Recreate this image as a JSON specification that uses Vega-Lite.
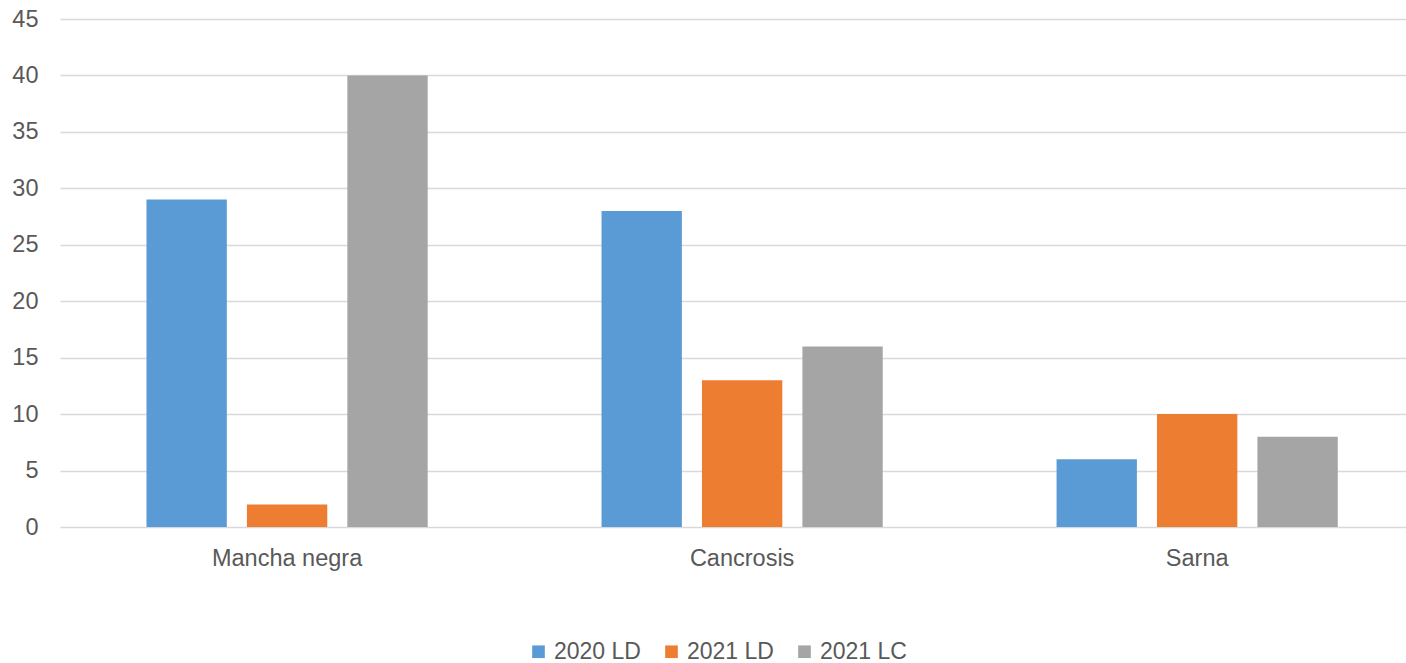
{
  "$schema": "https://vega.github.io/schema/vega-lite/v6.json",
  "width": 1346,
  "height": 508,
  "autosize": {"type": "none"},
  "padding": {"left": 60, "top": 19, "right": 0, "bottom": 136},
  "background": "white",
  "data": {
    "values": [
      {"enfermedad": "Mancha negra", "serie": "2020 LD", "valor": 29},
      {"enfermedad": "Mancha negra", "serie": "2021 LD", "valor": 2},
      {"enfermedad": "Mancha negra", "serie": "2021 LC", "valor": 40},
      {"enfermedad": "Cancrosis", "serie": "2020 LD", "valor": 28},
      {"enfermedad": "Cancrosis", "serie": "2021 LD", "valor": 13},
      {"enfermedad": "Cancrosis", "serie": "2021 LC", "valor": 16},
      {"enfermedad": "Sarna", "serie": "2020 LD", "valor": 6},
      {"enfermedad": "Sarna", "serie": "2021 LD", "valor": 10},
      {"enfermedad": "Sarna", "serie": "2021 LC", "valor": 8}
    ]
  },
  "mark": "bar",
  "encoding": {
    "x": {
      "field": "enfermedad", "type": "nominal", "sort": null, "title": null,
      "scale": {"paddingInner": 0.382, "paddingOuter": 0.17, "align": 0.559},
      "axis": {"labelAngle": 0, "domain": false, "ticks": false, "labelPadding": 19}
    },
    "xOffset": {
      "field": "serie", "type": "nominal", "sort": ["2020 LD", "2021 LD", "2021 LC"],
      "scale": {"paddingInner": 0.2, "paddingOuter": 0}
    },
    "y": {
      "field": "valor", "type": "quantitative", "title": null,
      "scale": {"domain": [0, 45], "nice": false},
      "axis": {"values": [0, 5, 10, 15, 20, 25, 30, 35, 40, 45], "domain": false, "ticks": false, "labelPadding": 22}
    },
    "color": {
      "field": "serie", "type": "nominal", "title": null,
      "sort": ["2020 LD", "2021 LD", "2021 LC"],
      "scale": {"domain": ["2020 LD", "2021 LD", "2021 LC"], "range": ["#5b9bd5", "#ed7d31", "#a5a5a5"]},
      "legend": {
        "orient": "none", "direction": "horizontal", "legendX": 467, "legendY": 621,
        "symbolType": "square", "symbolSize": 160, "symbolStrokeWidth": 0,
        "columnPadding": 19, "labelOffset": 4
      }
    }
  },
  "config": {
    "view": {"stroke": null},
    "font": "Liberation Sans",
    "axis": {
      "labelFont": "Liberation Sans", "labelFontSize": 23.5, "labelColor": "#595959",
      "gridColor": "#d9d9d9", "gridWidth": 1.3
    },
    "axisX": {"grid": false},
    "legend": {"labelFont": "Liberation Sans", "labelFontSize": 23, "labelColor": "#595959"}
  }
}
